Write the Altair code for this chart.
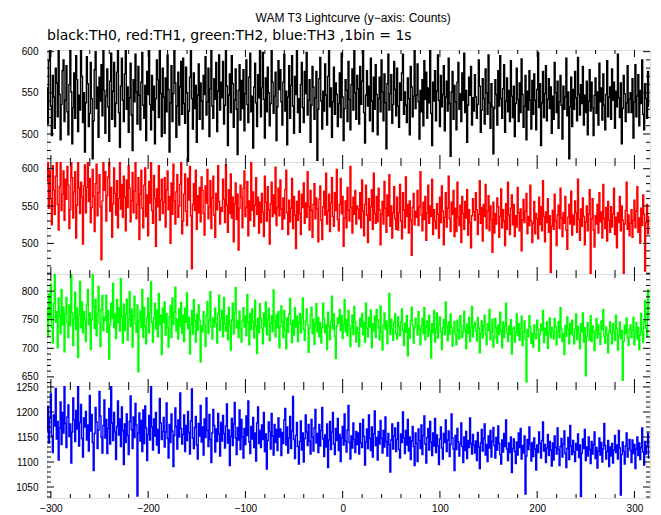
import altair as alt
import pandas as pd

FONT = "DejaVu Sans"
TITLE = "WAM T3 Lightcurve (y\u2212axis: Counts)"
SUBTITLE = "black:TH0, red:TH1, green:TH2, blue:TH3 ,1bin = 1s"

t_start = -304  # time of first 1 s bin

TH0 = [
556, 512, 589, 603, 534, 498, 571, 545, 507, 580, 562, 521, 610, 548, 493, 536, 577, 590, 515, 541,
583, 527, 499, 560, 606, 551, 488, 532, 574, 519, 595, 566, 503, 547, 529, 612, 570, 514, 550, 478,
538, 594, 561, 509, 525, 587, 543, 470, 516, 578, 600, 531, 557, 496, 569, 540, 584, 522, 605, 553,
501, 546, 579, 533, 491, 564, 598, 518, 552, 587, 509, 537, 575, 604, 526, 484, 558, 592, 541, 515,
573, 608, 530, 557, 502, 544, 586, 523, 480, 566, 539, 597, 551, 512, 582, 547, 505, 563, 599, 535,
519, 559, 492, 576, 548, 611, 536, 505, 571, 529, 558, 488, 543, 590, 566, 520, 603, 549, 497, 580,
545, 501, 568, 527, 596, 554, 478, 538, 583, 515, 549, 605, 562, 496, 534, 575, 511, 557, 588, 524,
592, 537, 513, 581, 550, 465, 528, 569, 602, 543, 506, 574, 531, 559, 490, 547, 585, 518, 562, 540,
506, 571, 548, 594, 523, 539, 580, 497, 555, 611, 534, 519, 567, 542, 587, 503, 552, 596, 529, 563,
544, 588, 512, 535, 601, 558, 486, 547, 573, 526, 595, 561, 508, 541, 579, 530, 475, 553, 584, 517,
565, 531, 578, 504, 549, 590, 536, 514, 569, 598, 527, 546, 483, 557, 586, 538, 509, 572, 544, 603,
521, 556, 599, 542, 495, 568, 527, 581, 550, 510, 537, 604, 563, 525, 546, 575, 492, 533, 589, 554,
578, 539, 511, 563, 597, 528, 552, 487, 545, 583, 519, 559, 595, 534, 501, 570, 548, 607, 526, 543,
502, 560, 587, 532, 514, 576, 549, 599, 523, 541, 566, 490, 535, 582, 557, 518, 544, 576, 468, 530,
567, 593, 540, 506, 552, 528, 585, 547, 511, 570, 602, 533, 556, 496, 539, 581, 524, 562, 548, 509,
537, 574, 520, 598, 545, 492, 531, 566, 553, 515, 588, 542, 505, 560, 579, 529, 603, 550, 518, 571,
555, 512, 582, 536, 564, 601, 526, 489, 547, 577, 534, 558, 516, 592, 540, 503, 569, 530, 584, 548,
499, 543, 569, 527, 590, 551, 516, 573, 538, 482, 561, 597, 529, 549, 572, 513, 536, 588, 554, 522,
580, 534, 508, 562, 541, 574, 597, 524, 551, 535, 514, 568, 543, 499, 582, 557, 521, 546, 605, 531,
547, 585, 539, 494, 553, 527, 566, 510, 589, 542, 575, 519, 556, 538, 602, 525, 486, 563, 540, 577,
516, 552, 596, 541, 509, 571, 533, 548, 583, 504, 545, 564, 528, 592, 537, 473, 551, 576, 518, 559,
539, 505, 563, 587, 530, 549, 515, 574, 541, 598, 526, 553, 490, 535, 569, 547, 582, 511, 544, 528,
572, 545, 519, 536, 590, 558, 502, 529, 567, 543, 512, 579, 550, 524, 596, 538, 507, 561, 533, 476,
531, 566, 548, 511, 577, 534, 595, 543, 519, 555, 584, 502, 540, 568, 527, 553, 515, 589, 546, 520,
558, 497, 537, 580, 542, 515, 562, 526, 591, 548, 508, 534, 571, 493, 552, 529, 577, 541, 506, 565,
524, 573, 541, 505, 554, 599, 532, 561, 486, 538, 576, 520, 549, 583, 516, 542, 567, 531, 557, 501,
546, 518, 587, 550, 526, 564, 507, 539, 571, 535, 494, 558, 530, 545, 592, 522, 551, 470, 533, 569,
509, 554, 530, 576, 544, 516, 593, 548, 523, 560, 537, 582, 511, 547, 526, 564, 499, 540, 578, 528,
563, 532, 498, 547, 568, 525, 551, 511, 586, 539, 556, 517, 573, 535, 505, 548, 589, 521, 545, 557,
518, 579, 541, 563, 507, 552, 533, 597, 544, 520, 562, 488, 531, 571, 549, 515, 538, 583, 526, 542,
550, 526, 567, 495, 539, 584, 521, 546, 572, 510, 553, 537, 590, 524, 505, 561, 543, 519, 576, 534,
]

TH1 = [
583, 612, 547, 598, 560, 525, 604, 571, 539, 590, 615, 552, 518, 576, 608, 544, 566, 597, 531, 586,
559, 603, 578, 520, 545, 611, 588, 534, 569, 596, 507, 551, 613, 574, 540, 582, 562, 499, 577, 605,
541, 575, 610, 556, 587, 528, 548, 599, 563, 516, 580, 606, 537, 568, 592, 549, 478, 557, 614, 571,
596, 530, 564, 589, 612, 543, 575, 508, 553, 601, 567, 538, 584, 521, 560, 609, 546, 579, 535, 590,
562, 517, 585, 548, 604, 574, 529, 557, 595, 541, 570, 612, 533, 552, 588, 505, 566, 598, 547, 521,
578, 601, 536, 565, 510, 583, 554, 608, 544, 527, 591, 560, 496, 573, 549, 604, 531, 558, 586, 540,
555, 588, 522, 572, 597, 545, 563, 500, 581, 539, 606, 557, 526, 569, 592, 535, 550, 579, 612, 513,
530, 566, 593, 543, 524, 587, 558, 603, 537, 466, 552, 580, 544, 598, 519, 564, 541, 575, 529, 589,
571, 540, 511, 577, 554, 599, 533, 549, 584, 520, 561, 590, 538, 508, 567, 545, 604, 556, 526, 548,
543, 586, 559, 528, 605, 551, 515, 572, 540, 593, 534, 562, 502, 553, 581, 532, 566, 491, 547, 578,
562, 521, 574, 597, 536, 548, 583, 510, 557, 531, 609, 544, 569, 523, 551, 588, 539, 562, 514, 555,
528, 567, 542, 509, 590, 555, 530, 576, 545, 499, 553, 582, 536, 565, 540, 602, 524, 548, 574, 537,
585, 546, 519, 561, 533, 572, 598, 541, 512, 558, 529, 547, 587, 520, 563, 538, 493, 556, 531, 570,
540, 512, 566, 548, 581, 527, 554, 535, 596, 549, 518, 571, 544, 508, 552, 580, 533, 561, 546, 502,
559, 577, 531, 505, 549, 570, 538, 594, 526, 543, 566, 516, 554, 588, 536, 523, 568, 544, 599, 532,
517, 552, 587, 540, 563, 496, 534, 557, 521, 575, 545, 530, 603, 548, 514, 562, 539, 571, 526, 550,
546, 533, 568, 521, 585, 543, 510, 552, 578, 538, 501, 560, 531, 549, 572, 519, 594, 540, 527, 563,
529, 574, 545, 498, 539, 556, 526, 583, 547, 515, 565, 537, 592, 523, 550, 507, 541, 576, 533, 519,
562, 518, 541, 579, 530, 506, 568, 545, 521, 589, 536, 552, 514, 557, 531, 484, 548, 567, 525, 543,
535, 571, 524, 549, 596, 538, 517, 555, 532, 563, 504, 541, 578, 527, 550, 536, 586, 512, 545, 530,
520, 553, 539, 507, 562, 528, 577, 543, 498, 535, 568, 522, 547, 590, 533, 516, 555, 539, 571, 509,
547, 516, 582, 535, 524, 551, 501, 563, 540, 519, 556, 534, 572, 511, 545, 528, 494, 537, 560, 542,
531, 568, 545, 512, 539, 584, 527, 548, 503, 552, 536, 579, 520, 543, 564, 517, 550, 532, 488, 555,
514, 540, 526, 561, 549, 508, 536, 573, 521, 545, 530, 497, 553, 519, 582, 538, 512, 547, 565, 525,
552, 509, 537, 522, 575, 541, 517, 546, 490, 531, 559, 528, 543, 567, 513, 536, 524, 578, 530, 501,
527, 556, 513, 540, 533, 506, 562, 525, 549, 517, 584, 536, 502, 542, 528, 560, 515, 537, 461, 523,
544, 519, 566, 530, 497, 538, 551, 520, 574, 534, 509, 541, 527, 563, 518, 492, 535, 552, 526, 570,
511, 538, 525, 557, 541, 515, 586, 532, 504, 546, 523, 561, 536, 498, 529, 550, 517, 539, 572, 460,
533, 560, 518, 495, 537, 526, 552, 514, 568, 529, 542, 507, 579, 533, 520, 548, 503, 556, 531, 515,
549, 522, 539, 574, 512, 535, 494, 541, 528, 563, 517, 550, 531, 459, 526, 544, 582, 519, 538, 510,
527, 545, 508, 531, 558, 521, 543, 576, 515, 534, 500, 547, 524, 565, 539, 463, 528, 552, 513, 536,
]

TH2 = [
768, 721, 795, 753, 812, 737, 709, 779, 831, 746, 764, 701, 788, 757, 726, 803, 741, 772, 694, 760,
789, 745, 719, 776, 740, 829, 762, 705, 751, 798, 733, 770, 684, 758, 817, 736, 781, 727, 764, 750,
712, 776, 803, 741, 762, 698, 750, 829, 773, 735, 786, 722, 759, 808, 744, 703, 768, 792, 731, 755,
749, 793, 728, 766, 681, 741, 779, 752, 814, 736, 760, 717, 785, 745, 771, 730, 822, 755, 709, 777,
731, 760, 786, 714, 751, 799, 738, 769, 702, 757, 791, 743, 728, 776, 659, 748, 765, 736, 803, 719,
772, 739, 708, 754, 788, 727, 762, 816, 745, 711, 753, 779, 734, 767, 720, 796, 741, 758, 689, 770,
745, 781, 723, 761, 736, 702, 755, 774, 719, 788, 742, 763, 807, 730, 751, 716, 769, 738, 780, 726,
758, 712, 770, 746, 797, 734, 754, 690, 741, 766, 725, 785, 748, 711, 759, 732, 776, 749, 676, 739,
729, 764, 741, 703, 758, 782, 726, 749, 799, 737, 716, 753, 738, 770, 744, 709, 761, 793, 731, 752,
766, 720, 789, 743, 730, 757, 715, 772, 741, 697, 750, 779, 725, 762, 806, 736, 748, 719, 765, 734,
711, 748, 771, 737, 756, 722, 794, 745, 706, 761, 733, 769, 746, 718, 784, 739, 691, 752, 727, 778,
752, 735, 708, 762, 739, 781, 724, 750, 770, 713, 743, 757, 729, 802, 747, 720, 759, 736, 764, 701,
738, 774, 746, 719, 766, 731, 699, 753, 728, 760, 787, 742, 710, 749, 723, 771, 737, 756, 712, 745,
761, 727, 753, 788, 733, 714, 748, 769, 741, 693, 735, 758, 772, 726, 751, 707, 743, 778, 729, 754,
720, 745, 709, 736, 779, 752, 727, 741, 698, 763, 738, 715, 747, 791, 734, 760, 721, 682, 739, 753,
744, 768, 731, 757, 717, 742, 785, 729, 750, 722, 766, 740, 703, 735, 758, 724, 773, 746, 711, 737,
727, 703, 752, 738, 761, 724, 745, 711, 779, 735, 720, 754, 737, 767, 701, 743, 730, 756, 719, 768,
750, 736, 715, 774, 729, 697, 741, 762, 733, 748, 708, 739, 796, 724, 751, 734, 714, 745, 760, 726,
716, 755, 738, 722, 746, 769, 731, 705, 744, 728, 757, 687, 735, 718, 749, 772, 740, 709, 736, 752,
741, 723, 764, 734, 706, 739, 752, 726, 771, 715, 737, 748, 721, 758, 730, 683, 743, 727, 766, 711,
733, 762, 718, 741, 755, 729, 698, 736, 750, 724, 781, 739, 713, 746, 725, 760, 737, 704, 729, 747,
724, 706, 749, 731, 716, 757, 740, 719, 728, 765, 733, 699, 742, 726, 754, 712, 736, 773, 720, 738,
745, 730, 713, 754, 735, 692, 727, 748, 718, 739, 758, 724, 706, 743, 731, 768, 715, 729, 751, 702,
718, 752, 736, 709, 741, 725, 763, 731, 701, 746, 719, 738, 779, 727, 712, 739, 724, 750, 690, 734,
737, 711, 728, 760, 722, 743, 714, 735, 756, 705, 729, 748, 716, 641, 733, 720, 757, 738, 709, 726,
702, 741, 725, 717, 749, 733, 695, 724, 742, 731, 766, 710, 735, 723, 746, 700, 728, 753, 719, 737,
730, 716, 752, 738, 706, 729, 747, 719, 771, 734, 712, 726, 689, 740, 721, 755, 733, 708, 744, 725,
749, 723, 708, 734, 760, 715, 738, 725, 699, 743, 729, 762, 711, 736, 652, 720, 745, 731, 714, 757,
712, 739, 727, 696, 731, 752, 718, 741, 725, 707, 748, 733, 768, 721, 709, 737, 724, 692, 730, 746,
726, 708, 743, 729, 714, 758, 735, 697, 722, 746, 717, 731, 644, 712, 740, 726, 753, 719, 705, 733,
741, 719, 732, 754, 706, 728, 745, 716, 737, 698, 723, 761, 729, 711, 746, 783, 735, 720, 802, 752,
]

TH3 = [
1163, 1211, 1138, 1187, 1236, 1152, 1119, 1194, 1172, 1247, 1146, 1181, 1104, 1168, 1220, 1135, 1199, 1158, 1255, 1177,
1129, 1190, 1214, 1151, 1176, 1098, 1160, 1228, 1184, 1141, 1203, 1166, 1258, 1132, 1179, 1215, 1147, 1110, 1188, 1170,
1201, 1144, 1174, 1122, 1233, 1162, 1195, 1139, 1083, 1157, 1209, 1180, 1127, 1164, 1241, 1192, 1150, 1118, 1173, 1224,
1148, 1185, 1117, 1167, 1207, 1136, 1256, 1178, 1143, 1199, 1160, 1105, 1171, 1222, 1154, 1186, 1131, 1210, 1163, 1095,
1176, 1139, 1196, 1153, 1115, 1181, 1232, 1165, 1127, 1190, 1149, 1217, 1174, 1032, 1158, 1198, 1142, 1183, 1121, 1204,
1137, 1212, 1168, 1103, 1155, 1193, 1144, 1252, 1170, 1124, 1186, 1152, 1199, 1134, 1165, 1118, 1227, 1178, 1145, 1161,
1189, 1130, 1160, 1218, 1147, 1108, 1175, 1139, 1196, 1162, 1091, 1153, 1208, 1171, 1126, 1184, 1150, 1238, 1167, 1136,
1155, 1194, 1121, 1173, 1143, 1201, 1159, 1116, 1182, 1246, 1148, 1127, 1169, 1191, 1134, 1106, 1177, 1152, 1213, 1140,
1170, 1114, 1186, 1149, 1228, 1163, 1131, 1195, 1145, 1099, 1158, 1205, 1173, 1120, 1166, 1141, 1197, 1156, 1112, 1179,
1142, 1193, 1157, 1128, 1172, 1216, 1138, 1164, 1093, 1151, 1187, 1133, 1176, 1219, 1148, 1115, 1169, 1144, 1204, 1125,
1185, 1150, 1108, 1167, 1135, 1192, 1153, 1222, 1140, 1117, 1171, 1146, 1189, 1129, 1158, 1102, 1178, 1210, 1137, 1163,
1129, 1174, 1145, 1199, 1121, 1156, 1086, 1143, 1180, 1161, 1126, 1197, 1152, 1114, 1175, 1139, 1165, 1123, 1188, 1150,
1166, 1113, 1159, 1137, 1184, 1207, 1134, 1170, 1118, 1148, 1191, 1127, 1162, 1231, 1145, 1107, 1153, 1179, 1131, 1096,
1141, 1182, 1124, 1158, 1100, 1147, 1194, 1160, 1133, 1175, 1142, 1116, 1185, 1150, 1122, 1168, 1205, 1138, 1157, 1119,
1175, 1132, 1163, 1209, 1146, 1111, 1154, 1130, 1176, 1089, 1144, 1181, 1125, 1160, 1199, 1136, 1115, 1167, 1143, 1187,
1123, 1155, 1101, 1148, 1171, 1134, 1196, 1142, 1120, 1164, 1213, 1139, 1106, 1152, 1128, 1178, 1145, 1119, 1161, 1135,
1158, 1116, 1177, 1138, 1129, 1185, 1151, 1094, 1140, 1166, 1127, 1194, 1147, 1123, 1170, 1110, 1156, 1202, 1133, 1149,
1104, 1161, 1136, 1183, 1147, 1118, 1163, 1130, 1190, 1141, 1112, 1157, 1135, 1080, 1144, 1176, 1126, 1152, 1168, 1121,
1145, 1179, 1125, 1108, 1156, 1139, 1200, 1148, 1117, 1163, 1134, 1185, 1122, 1150, 1105, 1142, 1171, 1131, 1093, 1158,
1137, 1101, 1166, 1143, 1127, 1174, 1115, 1153, 1192, 1136, 1098, 1149, 1167, 1124, 1181, 1140, 1113, 1158, 1132, 1187,
1119, 1154, 1132, 1095, 1146, 1170, 1128, 1106, 1157, 1139, 1184, 1121, 1144, 1162, 1111, 1135, 1196, 1148, 1126, 1083,
1153, 1125, 1167, 1140, 1112, 1136, 1178, 1131, 1099, 1150, 1123, 1161, 1107, 1143, 1129, 1188, 1137, 1116, 1155, 1134,
1118, 1142, 1103, 1159, 1130, 1087, 1138, 1165, 1122, 1147, 1176, 1114, 1135, 1101, 1152, 1128, 1163, 1110, 1141, 1169,
1133, 1108, 1149, 1124, 1172, 1137, 1115, 1096, 1144, 1120, 1157, 1131, 1184, 1126, 1103, 1138, 1119, 1150, 1079, 1127,
1146, 1121, 1097, 1140, 1114, 1158, 1129, 1167, 1106, 1133, 1118, 1152, 1036, 1112, 1145, 1125, 1170, 1136, 1102, 1139,
1111, 1148, 1126, 1084, 1134, 1119, 1160, 1137, 1108, 1143, 1180, 1122, 1135, 1099, 1128, 1155, 1113, 1141, 1124, 1092,
1138, 1104, 1152, 1129, 1116, 1168, 1125, 1093, 1131, 1147, 1110, 1136, 1162, 1117, 1089, 1127, 1149, 1105, 1173, 1132,
1115, 1143, 1120, 1101, 1137, 1124, 1156, 1109, 1134, 1031, 1118, 1146, 1127, 1165, 1103, 1130, 1112, 1150, 1125, 1097,
1141, 1116, 1135, 1160, 1107, 1129, 1088, 1122, 1148, 1114, 1139, 1100, 1126, 1177, 1133, 1106, 1121, 1143, 1091, 1130,
1112, 1137, 1098, 1124, 1153, 1119, 1134, 1106, 1163, 1128, 1034, 1115, 1140, 1121, 1096, 1132, 1158, 1110, 1127, 1145,
1123, 1099, 1144, 1117, 1135, 1087, 1126, 1150, 1113, 1138, 1105, 1129, 1168, 1120, 1094, 1141, 1116, 1132, 1157, 1108,
]

series = [TH0, TH1, TH2, TH3]
colors = ["#000000", "#ff0000", "#00ff00", "#0000ff"]
x_domain = [-304, 316]
y_domains = [[466, 602], [459, 609], [634, 830], [1028, 1252]]
y_major = [[500, 550, 600], [500, 550, 600], [650, 700, 750, 800],
           [1050, 1100, 1150, 1200, 1250]]
x_major = [-300, -200, -100, 0, 100, 200, 300]
x_minor = [v for v in range(-300, 301, 20) if v % 100 != 0]

W, H = 603, 112
MAJ, MIN = 7, 4


def rule_layers(vals, xs, ys, xaxis, yaxis, channel, length):
    d = pd.DataFrame({"v": vals})
    base = alt.Chart(d).mark_rule(color="black", strokeWidth=1)
    if channel == "x":
        enc = alt.X("v:Q", scale=xs, axis=xaxis)
        return [
            base.encode(x=enc, y=alt.value(0), y2=alt.value(length)),
            base.encode(x=enc, y=alt.value(H - length), y2=alt.value(H)),
        ]
    enc = alt.Y("v:Q", scale=ys, axis=yaxis)
    return [
        base.encode(y=enc, x=alt.value(0), x2=alt.value(length)),
        base.encode(y=enc, x=alt.value(W - length), x2=alt.value(W)),
    ]


panels = []
for i, vals in enumerate(series):
    df = pd.DataFrame({"t": [t_start + k for k in range(len(vals))], "c": vals})
    xs = alt.Scale(domain=x_domain, nice=False, zero=False)
    ys = alt.Scale(domain=y_domains[i], nice=False, zero=False)
    last = i == len(series) - 1
    if last:
        xaxis = alt.Axis(values=x_major, ticks=False, domain=False, grid=False,
                         labelPadding=5, format="d", title=None,
                         labelFlush=False, labelOverlap=False)
    else:
        xaxis = None
    yaxis = alt.Axis(values=y_major[i], ticks=False, domain=False, grid=False,
                     labelPadding=9, title=None, labelFlush=False, format="d",
                     labelOverlap=False, labelBound=False)
    line = alt.Chart(df).mark_line(
        interpolate="step", color=colors[i], strokeWidth=1.4, clip=True
    ).encode(
        x=alt.X("t:Q", scale=xs, axis=xaxis),
        y=alt.Y("c:Q", scale=ys, axis=yaxis),
    )
    lo, hi = y_domains[i]
    y_minor = [v for v in range((lo // 10 + 1) * 10, hi + 1, 10) if v not in y_major[i]]
    layers = [line]
    layers += rule_layers(x_major, xs, ys, xaxis, yaxis, "x", MAJ)
    layers += rule_layers(x_minor, xs, ys, xaxis, yaxis, "x", MIN)
    layers += rule_layers(y_major[i], xs, ys, xaxis, yaxis, "y", MAJ)
    layers += rule_layers(y_minor, xs, ys, xaxis, yaxis, "y", MIN)
    p = alt.layer(*layers).properties(width=W, height=H)
    if i == 0:
        p = p.properties(title=alt.TitleParams(
            text=SUBTITLE, anchor="start", frame="group", fontSize=14,
            font=FONT, fontWeight="normal", color="black", offset=4))
    panels.append(p)

chart = alt.vconcat(*panels, spacing=0, bounds="flush").properties(
    title=alt.TitleParams(text=TITLE, anchor="middle", fontSize=12,
                          font="Liberation Sans", fontWeight="normal",
                          color="black", offset=3, dx=20),
    padding={"left": 7, "top": 4, "right": 0, "bottom": 0},
).configure_view(
    stroke="black", strokeWidth=1
).configure_axis(
    labelFont=FONT, labelFontSize=12, labelColor="black"
).configure(background="white")

chart.save("out.html", embed_options={"renderer": "svg", "actions": False})
